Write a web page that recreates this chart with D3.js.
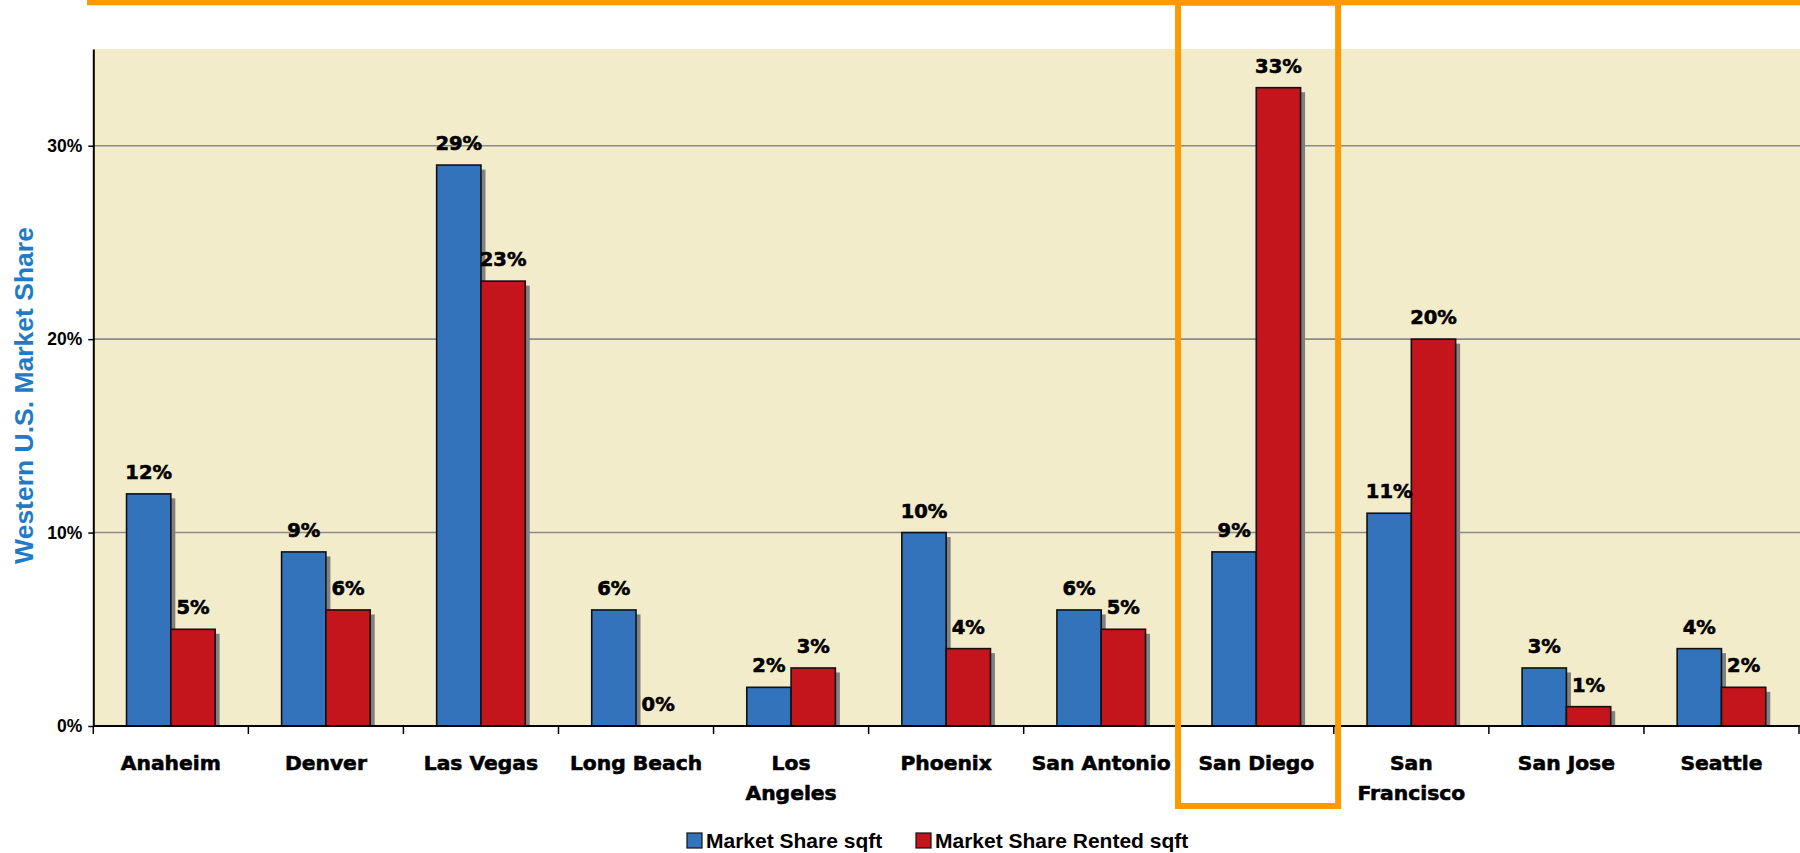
<!DOCTYPE html>
<html>
<head>
<meta charset="utf-8">
<script src="https://cdn.jsdelivr.net/npm/d3@7"></script>
<style>
  html, body { margin: 0; padding: 0; background: #ffffff; }
  svg { display: block; }
</style>
</head>
<body>
<svg id="chart" width="1800" height="853"></svg>
<script>
// ---- data ----
const categories = ["Anaheim", "Denver", "Las Vegas", "Long Beach", "Los Angeles", "Phoenix", "San Antonio", "San Diego", "San Francisco", "San Jose", "Seattle"];
const categoryLines = [["Anaheim"], ["Denver"], ["Las Vegas"], ["Long Beach"], ["Los", "Angeles"], ["Phoenix"], ["San Antonio"], ["San Diego"], ["San", "Francisco"], ["San Jose"], ["Seattle"]];
const seriesNames = ["Market Share sqft", "Market Share Rented sqft"];
const shareSqft = [12, 9, 29, 6, 2, 10, 6, 9, 11, 3, 4];
const shareRented = [5, 6, 23, 0, 3, 4, 5, 33, 20, 1, 2];
const yTicks = [0, 10, 20, 30];
const highlightCategory = "San Diego";
const yTitle = "Western U.S. Market Share";

(function () {
const colors = ["#3273bb", "#c4141c"];
const seriesValues = [shareSqft, shareRented];

const svg = d3.select("#chart");
const pLeft = 93.3, pRight = 1799, pTop = 49, pBottom = 726;

const x = d3.scaleBand().domain(categories).range([pLeft, pRight]).paddingInner(0).paddingOuter(0);
const x1 = d3.scaleBand().domain(seriesNames).range([0, x.bandwidth()]).paddingInner(0).paddingOuter(0.75);
const y = d3.scaleLinear().domain([0, 35]).range([pBottom, pTop]);

// plot background
svg.append("rect").attr("x", pLeft).attr("y", pTop).attr("width", 1800 - pLeft).attr("height", pBottom - pTop).attr("fill", "#f3ecca");

// gridlines
svg.append("g").selectAll("line").data(yTicks.filter(d => d > 0)).join("line")
  .attr("x1", pLeft).attr("x2", 1800)
  .attr("y1", d => y(d)).attr("y2", d => y(d))
  .attr("stroke", "#8a8a8a").attr("stroke-width", 1.6);

// bars
const data = categories.map((c, i) => ({ c, vals: seriesNames.map((s, j) => ({ s, j, v: seriesValues[j][i] })) }));
const groups = svg.append("g").selectAll("g").data(data).join("g")
  .attr("transform", d => `translate(${x(d.c)},0)`);

// shadows
groups.selectAll("rect.shadow").data(d => d.vals.filter(v => v.v > 0)).join("rect")
  .attr("class", "shadow")
  .attr("x", d => x1(d.s) + 4.5)
  .attr("y", d => y(d.v) + 4.5)
  .attr("width", x1.bandwidth())
  .attr("height", d => Math.max(0, y(0) - y(d.v) - 4.5))
  .attr("fill", "#808080");

groups.selectAll("rect.bar").data(d => d.vals.filter(v => v.v > 0)).join("rect")
  .attr("class", "bar")
  .attr("x", d => x1(d.s))
  .attr("y", d => y(d.v))
  .attr("width", x1.bandwidth())
  .attr("height", d => y(0) - y(d.v))
  .attr("fill", d => colors[d.j])
  .attr("stroke", "#111")
  .attr("stroke-width", 1.6);

// data labels
groups.selectAll("text.val").data(d => d.vals).join("text")
  .attr("class", "val")
  .attr("x", d => x1(d.s) + x1.bandwidth() / 2)
  .attr("y", d => y(d.v) - 15)
  .attr("text-anchor", "middle")
  .attr("font-family", "DejaVu Sans")
  .attr("font-weight", "bold")
  .attr("font-size", "19.5px")
  .attr("fill", "#000")
  .attr("stroke", "#000")
  .attr("stroke-width", 0.6)
  .text(d => d.v + "%");

// y axis
const yAxis = svg.append("g").attr("transform", `translate(${pLeft},0)`)
  .call(d3.axisLeft(y).tickValues(yTicks).tickFormat(d => d + "%").tickSize(5).tickSizeOuter(0));
yAxis.select(".domain").attr("stroke", "#000").attr("stroke-width", 2);
yAxis.selectAll(".tick line").attr("stroke", "#000").attr("stroke-width", 1.5);
yAxis.selectAll(".tick text")
  .attr("x", -11)
  .attr("font-family", "Liberation Sans")
  .attr("font-weight", "bold")
  .attr("font-size", "17.5px")
  .attr("fill", "#000");

// x axis
svg.append("line").attr("x1", pLeft).attr("x2", 1800).attr("y1", pBottom).attr("y2", pBottom)
  .attr("stroke", "#000").attr("stroke-width", 2);
const boundaries = categories.map(c => x(c)).concat([x.range()[1]]);
svg.append("g").selectAll("line").data(boundaries).join("line")
  .attr("x1", d => d).attr("x2", d => d)
  .attr("y1", pBottom).attr("y2", pBottom + 8)
  .attr("stroke", "#000").attr("stroke-width", 1.5);

const catLabels = svg.append("g").selectAll("text").data(categories).join("text")
  .attr("x", c => x(c) + x.bandwidth() / 2)
  .attr("y", 770)
  .attr("text-anchor", "middle")
  .attr("font-family", "DejaVu Sans")
  .attr("font-weight", "bold")
  .attr("font-size", "20.3px")
  .attr("fill", "#000")
  .attr("stroke", "#000")
  .attr("stroke-width", 0.6);
catLabels.each(function (c, i) {
  const t = d3.select(this);
  categoryLines[i].forEach((line, k) => {
    t.append("tspan").attr("x", x(c) + x.bandwidth() / 2).attr("dy", k === 0 ? 0 : 30).text(line);
  });
});

// y title
svg.append("text")
  .attr("transform", `translate(33,395.5) rotate(-90)`)
  .attr("text-anchor", "middle")
  .attr("font-family", "Liberation Sans")
  .attr("font-weight", "bold")
  .attr("font-size", "26.5px")
  .attr("fill", "#1f7bc8")
  .text(yTitle);

// legend
const legendX = [687, 916];
const legend = svg.append("g").selectAll("g").data(seriesNames).join("g")
  .attr("transform", (d, i) => `translate(${legendX[i]},833)`);
legend.append("rect").attr("width", 15).attr("height", 15)
  .attr("fill", (d, i) => colors[i]).attr("stroke", "#111").attr("stroke-width", 1.2);
legend.append("text").attr("x", 19).attr("y", 15)
  .attr("font-family", "Liberation Sans")
  .attr("font-weight", "bold")
  .attr("font-size", "21px")
  .attr("fill", "#000")
  .text(d => d);

// orange highlight
const orange = "#ff9900";
svg.append("rect").attr("x", 87).attr("y", 0).attr("width", 1800 - 87).attr("height", 5.3).attr("fill", orange);
const hx = x(highlightCategory);
svg.append("rect")
  .attr("x", hx - 0.7).attr("y", 2.7)
  .attr("width", x.bandwidth() + 5).attr("height", 806 - 2.7)
  .attr("fill", "none").attr("stroke", orange).attr("stroke-width", 6);
})();
</script>
</body>
</html>
